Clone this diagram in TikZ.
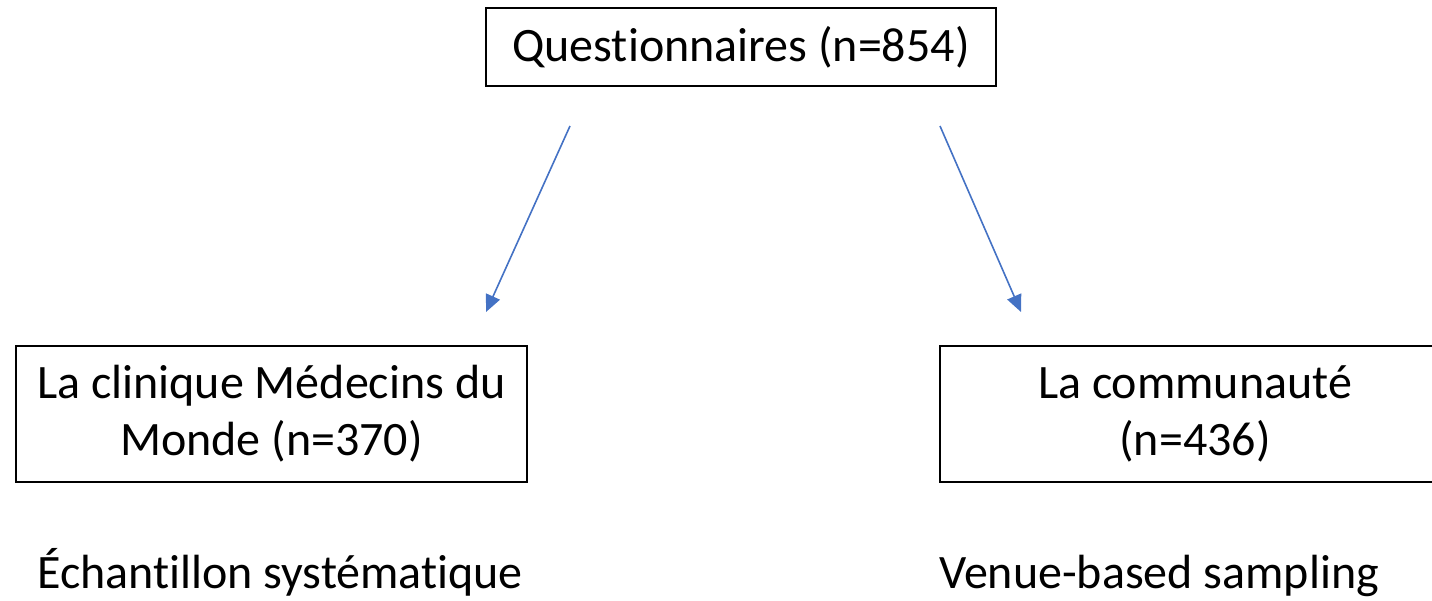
\documentclass[tikz,border=0pt]{standalone}
\usepackage{fontspec}
\setmainfont{Carlito}[Ligatures=NoCommon]
\usetikzlibrary{arrows.meta}
\definecolor{arrowblue}{HTML}{4472C4}
\begin{document}
\begin{tikzpicture}[x=1pt,y=-1pt,
  box/.style={draw=black, line width=2pt, inner sep=0pt, align=center,
    font=\fontsize{48}{57}\selectfont},
  label/.style={inner sep=0pt, anchor=base west, font=\fontsize{48}{57}\selectfont},
  flow/.style={draw=arrowblue, line width=1.6pt,
    -{Triangle[length=17pt,width=15pt]}}]
  \useasboundingbox (0,0) rectangle (1432,601);
  \clip (0,0) rectangle (1432,601);

  % boxes
  \node[box, minimum width=510, minimum height=78] (total) at (741,47)
    {Questionnaires (n=854)};
  \node[box, minimum width=511, minimum height=136] (clinic) at (271.5,414)
    {La clinique Médecins du\\Monde (n=370)};
  \node[box, minimum width=510, minimum height=136] (community) at (1195,414)
    {La communauté\\(n=436)};

  % sampling methods under each branch
  \node[label] (sys) at (37,588) {Échantillon systématique};
  \node[label] (venue) at (939,588) {Venue-based sampling};

  % arrow end points between the boxes
  \coordinate (leftstart) at (570,126);
  \coordinate (lefttip) at (486,312);
  \coordinate (rightstart) at (940,126);
  \coordinate (righttip) at (1021,312);

  \draw[flow] (leftstart) -- (lefttip);
  \draw[flow] (rightstart) -- (righttip);
\end{tikzpicture}
\end{document}
